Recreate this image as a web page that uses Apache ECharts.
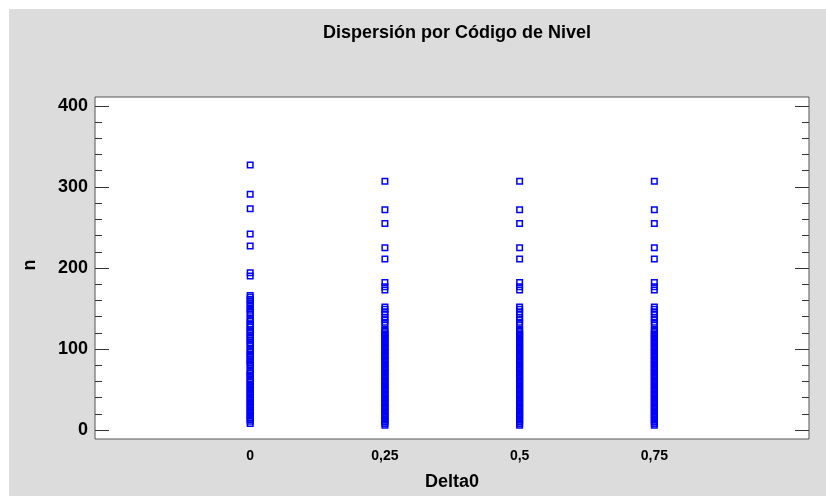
<!DOCTYPE html>
<html>
<head>
<meta charset="utf-8">
<script src="https://cdn.jsdelivr.net/npm/echarts@6/dist/echarts.min.js"></script>
<style>
html,body{margin:0;padding:0;background:#ffffff;}
#chart{width:826px;height:496px;}
</style>
</head>
<body>
<div id="chart"></div>
<script>
// Data
const deltaLevels = [0, 0.25, 0.5, 0.75];
const xTickLabels = ['0', '0,25', '0,5', '0,75'];
const yTickValues = [0, 100, 200, 300, 400];

const nAtDelta0 = [327, 291, 273, 242, 227, 194, 190,
  166, 164, 161, 159, 156, 153, 150, 148, 145, 143,
  138, 136, 134, 131, 129, 127, 124, 122, 120, 117, 115, 113, 111, 108, 106, 104,
  100, 98, 96, 94, 92, 90, 87, 85, 83, 81, 79,
  74, 72, 70, 68, 66, 63, 61,
  59, 57, 55, 53, 51, 49, 47, 45, 43, 41, 39, 37, 35, 33, 31, 29, 27, 25, 23, 21, 19, 17, 15, 13, 11, 8];

const nAtOtherDeltas = [307, 272, 255, 225, 211, 182, 177, 173,
  152, 149, 146, 143,
  139, 136, 133, 130,
  124, 122, 120, 118, 116, 114, 112, 110, 108, 106, 104, 102, 100, 98, 96, 94, 92, 90, 88, 86, 84, 82, 80, 78, 76, 74, 72, 70, 68,
  66, 64, 62, 60, 58, 56, 54, 52, 50, 48, 46, 44, 42, 40, 38, 36, 34, 32, 30, 28, 26, 24, 22, 20, 18, 16, 14, 12, 10, 8, 6];

const nByLevel = [nAtDelta0, nAtOtherDeltas, nAtOtherDeltas, nAtOtherDeltas];

const points = [];
deltaLevels.forEach((d, i) => {
  nByLevel[i].forEach(v => points.push([d, v]));
});

const minorValues = [];
for (let v = 0; v <= 400; v += 20) minorValues.push(v);

const chart = echarts.init(document.getElementById('chart'));
const font = '"Liberation Sans", Arial, sans-serif';
const GRID = {left: 95, right: 17, top: 97, bottom: 57};

function yAx(pos, values, len, showLabel) {
  return {
    type: 'value', position: pos, min: -11, max: 411, gridIndex: 0,
    axisLine: {show: false, onZero: false},
    splitLine: {show: false},
    axisTick: {show: true, inside: true, length: len, customValues: values,
      lineStyle: {color: '#333', width: 1}},
    axisLabel: {show: showLabel, customValues: yTickValues, margin: 7,
      color: '#000', fontWeight: 'bold', fontSize: 18, fontFamily: font}
  };
}

chart.setOption({
  backgroundColor: '#dcdcdc',
  animation: false,
  title: {
    text: 'Dispersión por Código de Nivel',
    left: 452, top: 19, textAlign: 'center',
    textStyle: {fontFamily: font, fontWeight: 'bold', fontSize: 18, color: '#000'}
  },
  grid: Object.assign({show: true, backgroundColor: '#ffffff', borderColor: '#555', borderWidth: 1}, GRID),
  xAxis: {
    type: 'value', min: -0.288, max: 1.037,
    axisLine: {show: false, onZero: false},
    splitLine: {show: false},
    axisTick: {show: false},
    axisLabel: {
      customValues: deltaLevels, margin: 10,
      formatter: v => xTickLabels[deltaLevels.indexOf(v)] ?? '',
      color: '#000', fontWeight: 'bold', fontSize: 14, fontFamily: font
    }
  },
  yAxis: [
    yAx('left', yTickValues, 14, true),
    yAx('left', minorValues, 7, false),
    yAx('right', yTickValues, 14, false),
    yAx('right', minorValues, 7, false)
  ],
  graphic: [
    {type: 'rect', shape: {x: 0, y: 0, width: 826, height: 9}, style: {fill: '#ffffff'}, z: 100},
    {type: 'rect', shape: {x: 0, y: 0, width: 9, height: 496}, style: {fill: '#ffffff'}, z: 100},
    {type: 'text', x: 452, y: 482, style: {text: 'Delta0', fill: '#000', font: 'bold 18px ' + font, align: 'center', verticalAlign: 'middle'}},
    {type: 'text', x: 30, y: 265, rotation: Math.PI / 2, style: {text: 'n', fill: '#000', font: 'bold 18px ' + font, align: 'center', verticalAlign: 'middle'}}
  ],
  series: [{
    type: 'scatter',
    yAxisIndex: 0,
    data: points,
    symbol: 'rect',
    symbolSize: 5.5,
    itemStyle: {color: 'rgba(255,255,255,0)', borderColor: '#0000ff', borderWidth: 1.5, opacity: 1}
  }]
});
</script>
</body>
</html>
